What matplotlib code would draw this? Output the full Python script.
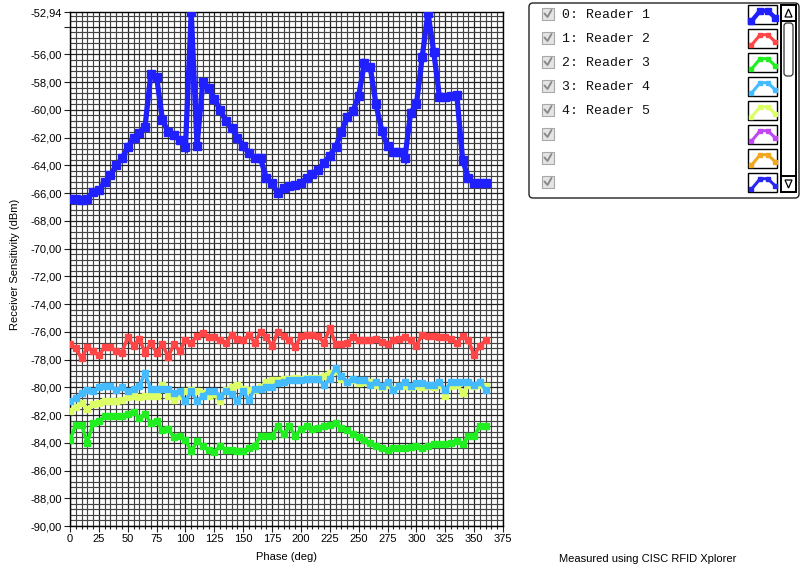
import numpy as np
import matplotlib
matplotlib.use("Agg")
import matplotlib.pyplot as plt
from matplotlib.patches import Rectangle, FancyBboxPatch, Polygon

# Phase sweep (deg), one sample every 5 degrees
phase = np.arange(0, 361, 5)

reader1 = [-66.4, -66.4, -66.5, -66.4, -65.9, -65.8, -65.2, -64.7, -64.0, -63.5,
           -62.7, -62.0, -61.7, -61.2, -57.4, -57.6, -60.7, -61.6, -61.8, -62.2,
           -62.7, -52.94, -62.6, -58.0, -58.4, -59.2, -60.0, -60.8, -61.3, -62.0,
           -62.6, -63.1, -63.5, -63.5, -64.9, -65.3, -66.0, -65.6, -65.5, -65.4,
           -65.3, -64.9, -64.6, -64.3, -63.8, -63.3, -62.7, -61.6, -60.5, -60.1,
           -59.0, -56.6, -56.9, -59.6, -61.5, -62.6, -63.0, -63.0, -63.5, -60.2,
           -59.6, -56.2, -53.0, -55.8, -59.1, -59.1, -59.0, -58.9, -63.6, -64.9,
           -65.3, -65.3, -65.3]

reader2 = [-76.9, -77.2, -77.9, -77.1, -77.4, -77.7, -77.1, -77.1, -77.4, -77.5,
           -76.4, -77.0, -76.5, -77.5, -76.8, -77.5, -76.9, -77.8, -76.9, -77.4,
           -76.6, -76.8, -76.3, -76.1, -76.4, -76.4, -76.6, -76.8, -76.2, -76.5,
           -76.6, -76.2, -76.8, -76.0, -76.4, -77.0, -76.0, -76.3, -76.6, -77.1,
           -76.3, -76.2, -76.2, -76.3, -76.8, -75.7, -76.9, -76.9, -76.8, -76.4,
           -76.6, -76.6, -76.6, -76.5, -76.7, -76.9, -76.6, -76.5, -76.4, -76.6,
           -77.0, -76.2, -76.3, -76.3, -76.4, -76.4, -76.5, -76.8, -76.3, -76.6,
           -77.7, -77.0, -76.6]

reader3 = [-83.8, -82.7, -82.7, -84.0, -82.6, -82.4, -82.1, -82.1, -82.1, -82.1,
           -81.9, -81.8, -82.2, -81.9, -82.6, -82.4, -83.1, -83.0, -83.6, -83.5,
           -83.8, -84.6, -83.9, -84.2, -84.5, -84.7, -84.2, -84.5, -84.5, -84.6,
           -84.6, -84.4, -84.2, -83.5, -83.5, -83.5, -82.8, -83.4, -82.8, -83.5,
           -83.0, -82.8, -83.0, -82.9, -82.8, -82.7, -82.6, -82.9, -83.1, -83.4,
           -83.6, -83.8, -84.0, -84.2, -84.4, -84.5, -84.4, -84.4, -84.4, -84.3,
           -84.2, -84.4, -84.2, -84.1, -84.1, -84.1, -84.0, -83.9, -84.1, -83.5,
           -83.5, -82.8, -82.8]

reader4 = [-81.0, -80.8, -80.4, -80.2, -80.3, -80.0, -79.9, -79.9, -80.2, -80.0,
           -80.3, -80.1, -79.9, -79.0, -80.1, -80.1, -80.1, -80.1, -80.4, -80.3,
           -81.0, -80.3, -81.0, -80.6, -80.3, -80.3, -80.6, -80.3, -80.5, -81.0,
           -80.3, -80.9, -80.1, -80.1, -80.0, -80.0, -79.7, -79.6, -79.5, -79.5,
           -79.5, -79.4, -79.4, -79.4, -79.8, -79.4, -78.6, -79.2, -79.6, -79.4,
           -79.5, -79.5, -79.8, -79.6, -79.9, -79.6, -80.2, -79.9, -79.6, -79.9,
           -79.7, -79.7, -79.8, -79.8, -79.6, -80.2, -79.6, -79.6, -79.6, -79.6,
           -79.8, -79.6, -80.2]

reader5 = [-81.7, -81.4, -81.1, -81.6, -81.2, -81.1, -81.0, -81.0, -81.0, -80.9,
           -80.7, -80.6, -80.7, -80.6, -80.6, -80.6, -79.8, -80.6, -80.9, -80.6,
           -80.3, -80.2, -80.3, -80.4, -80.6, -80.5, -81.0, -80.2, -80.0, -79.8,
           -80.1, -80.2, -80.2, -80.0, -79.6, -79.5, -79.5, -79.4, -79.4, -79.3,
           -79.4, -79.3, -79.3, -79.3, -79.2, -79.0, -78.8, -79.4, -79.6, -79.5,
           -79.7, -79.6, -79.6, -79.8, -80.0, -79.8, -80.1, -79.9, -79.9, -80.0,
           -79.9, -80.0, -79.9, -80.0, -79.8, -80.6, -79.9, -79.8, -80.4, -79.8,
           -79.9, -79.8, -79.9]

plot_names = ["0: Reader 1", "1: Reader 2", "2: Reader 3", "3: Reader 4",
              "4: Reader 5", "", "", ""]
plot_colors = ["#2020ff", "#ff4545", "#20ee20", "#45bbff", "#ddff66",
               "#c048f0", "#f0a820", "#2828f0"]

x_ticks = np.arange(0, 376, 25)
y_ticks = [-90.0, -88.0, -86.0, -84.0, -82.0, -80.0, -78.0, -76.0, -74.0,
           -72.0, -70.0, -68.0, -66.0, -64.0, -62.0, -60.0, -58.0, -56.0,
           -54.0, -52.94]

W, H = 802, 567
fig = plt.figure(figsize=(W / 100, H / 100), dpi=100)
fig.patch.set_facecolor("white")

ax_l, ax_r, ax_t, ax_b = 70, 503, 12, 526
ax = fig.add_axes([ax_l / W, 1 - ax_b / H, (ax_r - ax_l) / W, (ax_b - ax_t) / H])
ax.set_xlim(0, 375)
ax.set_ylim(-90, -52.94)

# dense plot-area grid
for gx in np.arange(0, 376, 5):
    major = gx % 25 == 0
    ax.axvline(gx, color="#222222" if major else "#444444",
               lw=0.9 if major else 0.85, zorder=1)
for gy in np.arange(-90, -52.9, 0.4):
    major = abs((gy + 90) / 2 - round((gy + 90) / 2)) < 1e-6
    ax.axhline(gy, color="#222222" if major else "#444444",
               lw=0.9 if major else 0.85, zorder=1)

ax.plot(phase, reader1, color=plot_colors[0], lw=3.8, marker="s", ms=6,
        solid_joinstyle="miter", zorder=6)
ax.plot(phase, reader2, color=plot_colors[1], lw=2.5, marker="s", ms=4,
        zorder=5)
ax.plot(phase, reader3, color=plot_colors[2], lw=2.5, marker="s", ms=4,
        zorder=5)
ax.plot(phase, reader5, color=plot_colors[4], lw=2.5, marker="s", ms=4,
        zorder=4)
ax.plot(phase, reader4, color=plot_colors[3], lw=2.5, marker="s", ms=4,
        zorder=5)

tick_font = dict(family="Liberation Sans", size=8)
ax.set_xticks(x_ticks)
ax.set_xticklabels([str(t) for t in x_ticks], **tick_font)
ax.set_xticks(np.arange(0, 376, 5), minor=True)
ax.set_yticks(y_ticks)
ax.set_yticklabels(["" if abs(v + 54) < 1e-6 else f"{v:.2f}".replace(".", ",")
                    for v in y_ticks], **tick_font)
ax.tick_params(axis="both", which="major", direction="out", length=4,
               width=0.8, color="#202020", pad=2)
ax.tick_params(axis="x", which="minor", direction="out", length=2,
               width=0.8, color="#202020")
for s in ax.spines.values():
    s.set_color("#000000")
    s.set_linewidth(1.0)

fig.text(15 / W, 1 - 264 / H, "Receiver Sensitivity (dBm)", rotation=90,
         ha="center", va="center", family="Liberation Sans", size=8)
fig.text(287 / W, 1 - 557 / H, "Phase (deg)", ha="center", va="center",
         family="Liberation Sans", size=8)
fig.text(559 / W, 1 - 559 / H, "Measured using CISC RFID Xplorer",
         ha="left", va="center", family="Liberation Sans", size=8)

# plot legend panel, laid out in pixel units
lg = fig.add_axes([0, 0, 1, 1], zorder=10)
lg.set_xlim(0, W)
lg.set_ylim(H, 0)
lg.axis("off")
lg.patch.set_alpha(0)

lg.add_patch(FancyBboxPatch((529, 3), 270, 195,
                            boxstyle="round,pad=0,rounding_size=4",
                            fc="white", ec="#222222", lw=1.0))
# scrollbar
lg.add_patch(Rectangle((781, 5), 15, 187, fc="white", ec="#000000", lw=1.4))
lg.add_patch(Rectangle((781, 5), 15, 16, fc="white", ec="#000000", lw=1.4))
lg.add_patch(Rectangle((781, 176), 15, 16, fc="white", ec="#000000", lw=1.4))
lg.add_patch(Polygon([(785, 17), (792, 17), (788.5, 9)], closed=True,
                     fc="white", ec="#000000", lw=0.9))
lg.add_patch(Polygon([(785, 180), (792, 180), (788.5, 188)], closed=True,
                     fc="white", ec="#000000", lw=0.9))
lg.add_patch(FancyBboxPatch((784, 23), 9, 53,
                            boxstyle="round,pad=0,rounding_size=3",
                            fc="white", ec="#333333", lw=0.9))

icon = np.array([(0.12, 0.85), (0.42, 0.3), (0.68, 0.3), (0.93, 0.66)])
for i, (name, col) in enumerate(zip(plot_names, plot_colors)):
    cy = 14 + 24 * i
    # checkbox
    lg.add_patch(Rectangle((542, cy - 6), 12, 12, fc="#e4e4e4",
                           ec="#a8a8a8", lw=0.8))
    lg.plot([544.5, 547.5, 551.5], [cy - 0.5, cy + 3, cy - 4],
            color="#8a8a8a", lw=1.4, solid_capstyle="round")
    if name:
        lg.text(562, cy + 0.5, name, ha="left", va="center",
                family="Liberation Mono", size=9.5, color="#111111")
    # swatch
    sx, sy, sw, sh = 748, cy - 9, 29, 19
    lg.add_patch(Rectangle((sx, sy), sw, sh, fc="white", ec="#000000", lw=1.0))
    px = sx + icon[:, 0] * sw
    py = sy + icon[:, 1] * sh
    lw_i, ms_i = (3.2, 4.5) if i == 0 else (2.2, 3.2)
    lg.plot(px, py, color=col, lw=lw_i, marker="s", ms=ms_i)

fig.savefig("out.png", dpi=100, facecolor="white")
